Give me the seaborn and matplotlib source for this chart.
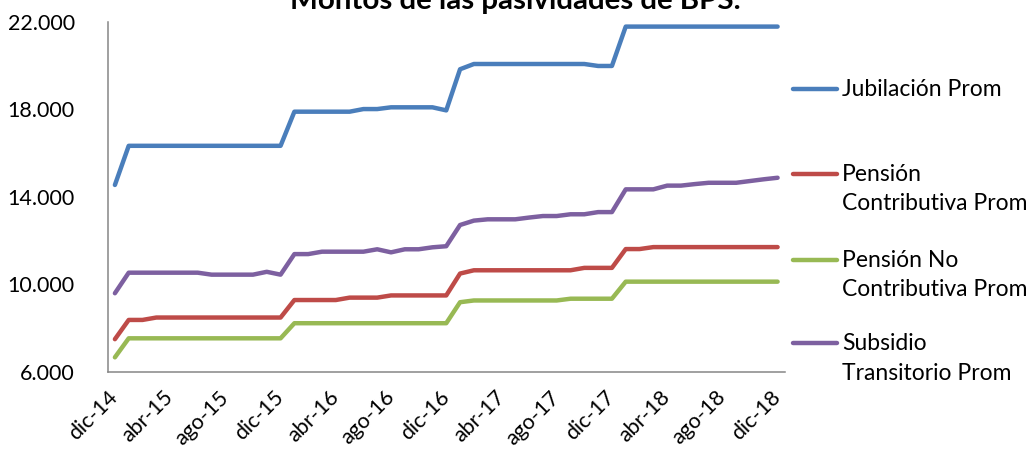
import matplotlib
matplotlib.use("Agg")
import matplotlib.pyplot as plt
from matplotlib.lines import Line2D
import seaborn as sns
import pandas as pd

# ---------------- data ----------------
meses = ["dic-14", "ene-15", "feb-15", "mar-15", "abr-15", "may-15", "jun-15", "jul-15",
         "ago-15", "sep-15", "oct-15", "nov-15", "dic-15", "ene-16", "feb-16", "mar-16",
         "abr-16", "may-16", "jun-16", "jul-16", "ago-16", "sep-16", "oct-16", "nov-16",
         "dic-16", "ene-17", "feb-17", "mar-17", "abr-17", "may-17", "jun-17", "jul-17",
         "ago-17", "sep-17", "oct-17", "nov-17", "dic-17", "ene-18", "feb-18", "mar-18",
         "abr-18", "may-18", "jun-18", "jul-18", "ago-18", "sep-18", "oct-18", "nov-18",
         "dic-18"]

jubilacion = [14550, 16340, 16340, 16340, 16340, 16340, 16340, 16340, 16340, 16340,
              16340, 16340, 16340, 17900, 17900, 17900, 17900, 17900, 18020, 18020,
              18100, 18100, 18100, 18100, 17960, 19840, 20080, 20080, 20080, 20080,
              20080, 20080, 20080, 20080, 20080, 19990, 19990, 21790, 21790, 21790,
              21790, 21790, 21790, 21790, 21790, 21790, 21790, 21790, 21790]

pension_contrib = [7500, 8380, 8380, 8490, 8490, 8490, 8490, 8490, 8490, 8490,
                   8490, 8490, 8490, 9290, 9290, 9290, 9290, 9400, 9400, 9400,
                   9500, 9500, 9500, 9500, 9500, 10500, 10650, 10650, 10650, 10650,
                   10650, 10650, 10650, 10650, 10760, 10760, 10760, 11620, 11620, 11710,
                   11710, 11710, 11710, 11710, 11710, 11710, 11710, 11710, 11710]

pension_no_contrib = [6670, 7540, 7540, 7540, 7540, 7540, 7540, 7540, 7540, 7540,
                      7540, 7540, 7540, 8230, 8230, 8230, 8230, 8230, 8230, 8230,
                      8230, 8230, 8230, 8230, 8230, 9190, 9270, 9270, 9270, 9270,
                      9270, 9270, 9270, 9350, 9350, 9350, 9350, 10130, 10130, 10130,
                      10130, 10130, 10130, 10130, 10130, 10130, 10130, 10130, 10130]

subsidio = [9600, 10540, 10540, 10540, 10540, 10540, 10540, 10450, 10450, 10450,
            10450, 10580, 10450, 11390, 11390, 11500, 11500, 11500, 11500, 11610,
            11470, 11610, 11610, 11700, 11750, 12720, 12920, 12980, 12980, 12980,
            13060, 13130, 13130, 13210, 13210, 13310, 13310, 14350, 14350, 14350,
            14520, 14520, 14590, 14650, 14650, 14650, 14730, 14810, 14880]

series_names = ["Jubilación Prom", "Pensión Contributiva Prom",
                "Pensión No Contributiva Prom", "Subsidio Transitorio Prom"]
legend_labels = ["Jubilación Prom", "Pensión\nContributiva Prom",
                 "Pensión No\nContributiva Prom", "Subsidio\nTransitorio Prom"]
series_values = [jubilacion, pension_contrib, pension_no_contrib, subsidio]

xtick_labels = ["dic-14", "abr-15", "ago-15", "dic-15", "abr-16", "ago-16", "dic-16",
                "abr-17", "ago-17", "dic-17", "abr-18", "ago-18", "dic-18"]
ytick_values = [6000, 10000, 14000, 18000, 22000]
ytick_labels = ["6.000", "10.000", "14.000", "18.000", "22.000"]
title = "Montos de las pasividades de BPS."

colors = ["#4A7EBB", "#BE4B48", "#98B954", "#7D60A0"]

# ---------------- figure ----------------
sns.set_theme(style="white")
plt.rcParams["font.family"] = ["Lato", "DejaVu Sans"]

W, H = 1030, 459
fig = plt.figure(figsize=(W / 100, H / 100), dpi=100)
ax = fig.add_axes([108 / W, (H - 372) / H, 676.5 / W, 350 / H])

rows = []
for name, vals in zip(series_names, series_values):
    for i, v in enumerate(vals):
        rows.append({"idx": i, "mes": meses[i], "valor": v, "serie": name})
df = pd.DataFrame(rows)

sns.lineplot(data=df, x="idx", y="valor", hue="serie", hue_order=series_names,
             palette=colors, linewidth=3.2, legend=False, ax=ax, sort=False)
for ln in ax.lines:
    ln.set_solid_capstyle("round")
    ln.set_solid_joinstyle("round")

ax.set_xlim(-0.5, len(meses) - 0.5)
ax.set_ylim(6000, 22000)
ax.set_xlabel("")
ax.set_ylabel("")

tick_pos = [meses.index(m) for m in xtick_labels]
ax.set_xticks(tick_pos)
ax.set_xticklabels(xtick_labels, rotation=45, ha="right", va="center",
                   rotation_mode="anchor", fontsize=15.5, color="black")
ax.set_yticks(ytick_values)
ax.set_yticklabels(ytick_labels, fontsize=15.5, color="black")
ax.tick_params(axis="x", length=0, pad=16)
ax.tick_params(axis="y", length=0, pad=24)

for s in ["top", "right"]:
    ax.spines[s].set_visible(False)
for s in ["left", "bottom"]:
    ax.spines[s].set_color("#868686")
    ax.spines[s].set_linewidth(1.1)
ax.grid(False)

# title (mostly cut off at top, as in reference)
t = fig.text(0.5, 1 - 9 / H, title, ha="center", va="baseline",
             fontsize=19, fontweight="bold", color="black")
fig.canvas.draw()
wpx = t.get_window_extent().width
t.set_fontsize(19 * 450 / wpx)

# legend (manual, handles aligned with first text line)
baselines = [96, 181, 267, 350]
for lab, col, b in zip(legend_labels, colors, baselines):
    yl = 1 - (b - 7) / H
    fig.add_artist(Line2D([793 / W, 837 / W], [yl, yl], transform=fig.transFigure,
                          color=col, linewidth=3.2, solid_capstyle="round"))
    fig.text(842 / W, 1 - b / H, lab.split("\n")[0], ha="left", va="baseline",
             fontsize=16.5, color="black")
    if "\n" in lab:
        fig.text(842 / W, 1 - (b + 29.5) / H, lab.split("\n")[1], ha="left",
                 va="baseline", fontsize=16.5, color="black")

fig.savefig("out.png", dpi=100)
